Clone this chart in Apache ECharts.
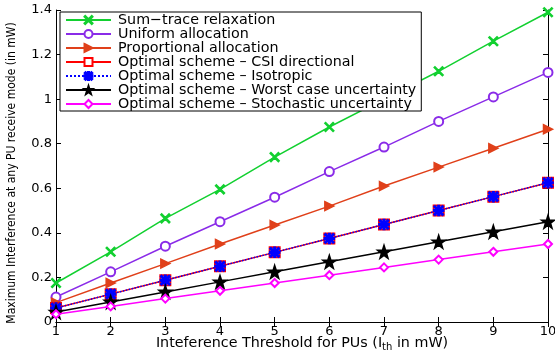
<!DOCTYPE html>
<html>
<head>
<meta charset="utf-8">
<script src="https://cdn.jsdelivr.net/npm/echarts@6/dist/echarts.min.js"></script>
<style>html,body{margin:0;padding:0;background:#fff}#c{width:555px;height:352px}</style>
</head>
<body>
<div id="c"></div>
<script>
var xValues = [1, 2, 3, 4, 5, 6, 7, 8, 9, 10];
var sumTrace = [0.175, 0.315, 0.465, 0.595, 0.74, 0.875, 1.0, 1.125, 1.26, 1.39];
var uniform = [0.112, 0.225, 0.34, 0.45, 0.56, 0.675, 0.785, 0.9, 1.01, 1.12];
var proportional = [0.087, 0.175, 0.262, 0.35, 0.435, 0.52, 0.61, 0.695, 0.78, 0.865];
var csiDirectional = [0.0625, 0.125, 0.1875, 0.25, 0.3125, 0.375, 0.4375, 0.5, 0.5625, 0.625];
var isotropic = [0.0625, 0.125, 0.1875, 0.25, 0.3125, 0.375, 0.4375, 0.5, 0.5625, 0.625];
var worstCase = [0.045, 0.09, 0.135, 0.18, 0.225, 0.27, 0.315, 0.36, 0.405, 0.45];
var stochastic = [0.035, 0.07, 0.105, 0.14, 0.175, 0.21, 0.245, 0.28, 0.315, 0.35];
var seriesNames = ['Sum\u2212trace relaxation', 'Uniform allocation', 'Proportional allocation',
  'Optimal scheme \u2013 CSI directional', 'Optimal scheme \u2013 Isotropic',
  'Optimal scheme \u2013 Worst case uncertainty', 'Optimal scheme \u2013 Stochastic uncertainty'];

function pairs(arr){ return arr.map(function(v,i){ return [xValues[i], v]; }); }

var XSYM = 'path://M0,0.9 L0.9,0 L5,4.1 L9.1,0 L10,0.9 L5.9,5 L10,9.1 L9.1,10 L5,5.9 L0.9,10 L0,9.1 L4.1,5 Z';
var TRI = 'path://M0,0 L10,5 L0,10 Z';
var AST = 'path://M4.2,0 L5.8,0 L5.8,10 L4.2,10 Z M0,4.2 L10,4.2 L10,5.8 L0,5.8 Z M1.3,0.2 L9.8,8.7 L8.7,9.8 L0.2,1.3 Z M8.7,0.2 L9.8,1.3 L1.3,9.8 L0.2,8.7 Z';
var STAR = 'path://M5,0 L6.2,3.6 L10,3.6 L7,5.9 L8.1,9.5 L5,7.3 L1.9,9.5 L3,5.9 L0,3.6 L3.8,3.6 Z';

var colors = ['#12d030', '#8a2be8', '#e0401a', '#ff0000', '#0000ff', '#000000', '#ff00ff'];
var symbols = [XSYM, 'emptyCircle', TRI, 'emptyRect', AST, STAR, 'emptyDiamond'];
var sizes = [9, 9, 9, 10, 10, 13, 8];
var datas = [sumTrace, uniform, proportional, csiDirectional, isotropic, worstCase, stochastic];

var series = datas.map(function(d, i){
  return {
    name: seriesNames[i], type: 'line', data: pairs(d),
    symbol: symbols[i], symbolSize: sizes[i], showAllSymbol: true,
    lineStyle: {color: colors[i], width: 1.5, type: i === 4 ? 'dotted' : 'solid'},
    itemStyle: {color: colors[i], borderColor: colors[i], borderWidth: 1.5},
    z: 2 + i, animation: false
  };
});

var chart = echarts.init(document.getElementById('c'), null, {renderer: 'canvas'});
var fontFam = '"DejaVu Sans", sans-serif';
chart.setOption({
  backgroundColor: '#fff',
  animation: false,
  grid: {left: 56, right: 7, top: 10, bottom: 30, containLabel: false, outerBoundsMode: 'none'},
  legend: {
    orient: 'vertical', left: 60, top: 12,
    data: seriesNames,
    itemWidth: 45, itemHeight: 10, itemGap: 0,
    padding: [1, 5, 0, 5],
    backgroundColor: '#fff', borderColor: '#000', borderWidth: 1,
    textStyle: {fontFamily: fontFam, fontSize: 14.3, color: '#000', padding: [0,0,0,2]}
  },
  xAxis: [{
    type: 'value', min: 1, max: 10, interval: 1,
    name: '{a|Inteference Threshold for PUs (I}{s|th}{a| in mW)}',
    nameLocation: 'middle', nameGap: 13, nameMoveOverlap: false,
    nameTextStyle: {rich: {a: {fontFamily: fontFam, fontSize: 14.3, color: '#000'}, s: {fontFamily: fontFam, fontSize: 10, color: '#000', verticalAlign: 'bottom', padding: [7,0,0,0]}}},
    axisLine: {show: true, lineStyle: {color: '#000', width: 1}},
    axisTick: {inside: true, length: 5, lineStyle: {color: '#000'}},
    axisLabel: {fontFamily: fontFam, fontSize: 13, color: '#000', margin: 3},
    splitLine: {show: false}
  }, {
    type: 'value', min: 1, max: 10, interval: 1, position: 'top',
    axisLine: {show: true, lineStyle: {color: '#000', width: 1}},
    axisTick: {inside: true, length: 5, lineStyle: {color: '#000'}},
    axisLabel: {show: false}, splitLine: {show: false}
  }],
  yAxis: [{
    type: 'value', min: 0, max: 1.4, interval: 0.2,
    name: 'Maximum Interference at any PU receive mode (in mW)',
    nameLocation: 'middle', nameGap: 38, nameMoveOverlap: false,
    nameTextStyle: {fontFamily: '"Liberation Sans Narrow", "DejaVu Sans Condensed", sans-serif', fontSize: 12, color: '#000', padding: [0, 14, 0, 0]},
    axisLine: {show: true, lineStyle: {color: '#000', width: 1}},
    axisTick: {inside: true, length: 5, lineStyle: {color: '#000'}},
    axisLabel: {fontFamily: fontFam, fontSize: 13, color: '#000', margin: 4},
    splitLine: {show: false}
  }, {
    type: 'value', min: 0, max: 1.4, interval: 0.2, position: 'right',
    axisLine: {show: true, lineStyle: {color: '#000', width: 1}},
    axisTick: {inside: true, length: 5, lineStyle: {color: '#000'}},
    axisLabel: {show: false}, splitLine: {show: false}
  }],
  series: series
});
</script>
</body>
</html>
